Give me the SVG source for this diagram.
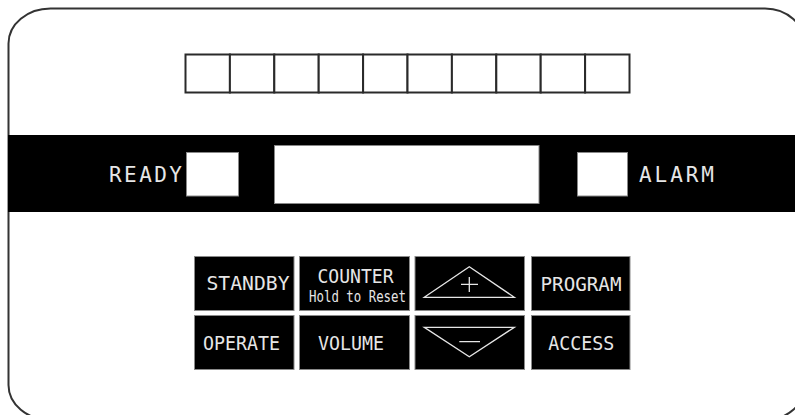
<svg xmlns="http://www.w3.org/2000/svg" width="795" height="415" viewBox="0 0 795 415">
<style>
.frame{fill:#fff;stroke:#333;stroke-width:2}
.cell{fill:#fff;stroke:#2a2a2a;stroke-width:2}
.lamp{fill:#fff;stroke:#888;stroke-width:1}
.btn{fill:#000;stroke:#8a8a8a;stroke-width:1}
.lbl{font-family:"DejaVu Sans Mono","Liberation Mono",monospace;font-size:20px;fill:#e6e6e6}
.big{font-size:21px}
.sm{font-size:15px}
.sym{fill:none;stroke:#e6e6e6;stroke-width:1.3}
</style>
<rect width="795" height="415" fill="#fff"/>
<g id="frame">
<path class="frame" d="M 50.5,8.5 H 765 A 40 36 0 0 1 805 44.5 H 840 V 385 H 805 A 40 35 0 0 1 765 420 H 50.5 A 42 35 0 0 1 8.5 385 V 43.5 A 42 35 0 0 1 50.5 8.5 Z"/>
</g>
<g id="digits">
<rect class="cell" x="185.5" y="54.5" width="44.4" height="38"/>
<rect class="cell" x="229.9" y="54.5" width="44.4" height="38"/>
<rect class="cell" x="274.3" y="54.5" width="44.4" height="38"/>
<rect class="cell" x="318.7" y="54.5" width="44.4" height="38"/>
<rect class="cell" x="363.1" y="54.5" width="44.4" height="38"/>
<rect class="cell" x="407.5" y="54.5" width="44.4" height="38"/>
<rect class="cell" x="451.9" y="54.5" width="44.4" height="38"/>
<rect class="cell" x="496.3" y="54.5" width="44.4" height="38"/>
<rect class="cell" x="540.7" y="54.5" width="44.4" height="38"/>
<rect class="cell" x="585.1" y="54.5" width="44.4" height="38"/>
</g>
<g id="band">
<rect x="8" y="135" width="795" height="77" fill="#000"/>
</g>
<g id="ready">
<text class="lbl big" x="109" y="182" textLength="73" lengthAdjust="spacing">READY</text>
<rect class="lamp" x="186.5" y="152.5" width="52" height="43.5"/>
</g>
<g id="display">
<rect class="lamp" x="274.5" y="145.5" width="264.5" height="58"/>
</g>
<g id="alarm">
<rect class="lamp" x="577.5" y="152.5" width="50" height="43.5"/>
<text class="lbl big" x="639" y="182" textLength="75" lengthAdjust="spacing">ALARM</text>
</g>
<g id="standby">
<rect class="btn" x="194.5" y="256.5" width="99.5" height="54"/>
<text class="lbl" x="206.5" y="289.5" textLength="83" lengthAdjust="spacingAndGlyphs">STANDBY</text>
</g>
<g id="counter">
<rect class="btn" x="299.5" y="256.5" width="110" height="54"/>
<text class="lbl" x="317.5" y="283" textLength="76" lengthAdjust="spacingAndGlyphs">COUNTER</text>
<text class="lbl sm" x="309" y="302" textLength="97" lengthAdjust="spacingAndGlyphs">Hold to Reset</text>
</g>
<g id="up">
<rect class="btn" x="415" y="256.5" width="109.5" height="54"/>
<path class="sym" d="M 424.3,297.3 L 469.3,266.7 L 514.3,297.3 Z M 461,284.3 H 478 M 469.3,277 V 292"/>
</g>
<g id="program">
<rect class="btn" x="531.5" y="256.5" width="98.5" height="54"/>
<text class="lbl" x="540.5" y="290.5" textLength="81" lengthAdjust="spacingAndGlyphs">PROGRAM</text>
</g>
<g id="operate">
<rect class="btn" x="194.5" y="315.5" width="99.5" height="54"/>
<text class="lbl" x="203" y="349.5" textLength="77" lengthAdjust="spacingAndGlyphs">OPERATE</text>
</g>
<g id="volume">
<rect class="btn" x="299.5" y="315.5" width="110" height="54"/>
<text class="lbl" x="318" y="349.5" textLength="66" lengthAdjust="spacingAndGlyphs">VOLUME</text>
</g>
<g id="down">
<rect class="btn" x="415" y="315.5" width="109.5" height="54"/>
<path class="sym" d="M 424.3,327.3 L 514.3,327.3 L 469.3,356.7 Z M 459.3,341.7 H 480"/>
</g>
<g id="access">
<rect class="btn" x="531.5" y="315.5" width="98.5" height="54"/>
<text class="lbl" x="548.3" y="350" textLength="66" lengthAdjust="spacingAndGlyphs">ACCESS</text>
</g>
<g id="connectors"></g>
</svg>
